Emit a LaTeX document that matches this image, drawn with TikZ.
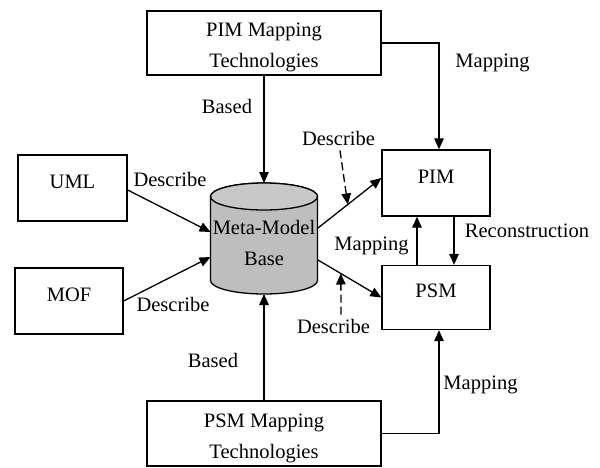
\documentclass[tikz,border=0pt]{standalone}
\usepackage{fontspec}
\setmainfont{Liberation Serif}
\usetikzlibrary{arrows.meta}
\definecolor{cylfill}{RGB}{190,190,190}
\definecolor{cyltop}{RGB}{200,200,200}
\begin{document}
\begin{tikzpicture}[x=1pt,y=-1pt,
  txt/.style={font=\fontsize{20.5}{31}\selectfont, inner sep=0pt, align=center, text=black},
  lbl/.style={txt, anchor=base},
  onebox/.style={txt, draw, line width=1.3pt, text height=10pt, text depth=10pt},
  twobox/.style={txt, draw, line width=1.3pt, text height=55pt, text depth=6pt},
  conn/.style={line width=1.3pt, -{Triangle[length=11pt,width=9.5pt]}},
  dconn/.style={conn, dash pattern=on 8pt off 4pt}]
\useasboundingbox (0,0) rectangle (600,467);

% boxes
\node[twobox, minimum width=234pt, minimum height=64pt] (pimt) at (264,43) {PIM Mapping\\Technologies};
\node[twobox, minimum width=234pt, minimum height=65pt] (psmt) at (264,433.5) {PSM Mapping\\Technologies};
\node[onebox, minimum width=109pt, minimum height=66pt] (uml) at (72.5,188) {UML};
\node[onebox, minimum width=108pt, minimum height=66pt] (mof) at (69,301) {MOF};
\node[onebox, minimum width=108pt, minimum height=66pt] (pim) at (436,183) {PIM};
\node[onebox, minimum width=108pt, minimum height=64pt] (psm) at (436,297.5) {PSM};

% cylinder
\filldraw[fill=cylfill, line width=1.3pt]
  (210.5,196.5) -- (210.5,280.5)
  arc[start angle=180, end angle=360, x radius=53.5pt, y radius=13.5pt]
  -- (317.5,196.5)
  arc[start angle=0, end angle=180, x radius=53.5pt, y radius=13.5pt] -- cycle;
\filldraw[fill=cyltop, line width=1.3pt] (264,196.5) ellipse[x radius=53.5pt, y radius=13.5pt];
\node[txt, text height=41pt, text depth=10pt] (mmb) at (264,249.5) {Meta-Model\\Base};

\coordinate (ctop) at (264,183);
\coordinate (cbot) at (264,294);
\coordinate (cul) at (210.5,232);
\coordinate (cml) at (210.5,257);
\coordinate (cur) at (318,228);
\coordinate (clr) at (318,260);

% labels
\node[lbl] (basedt) at (227,113) {Based};
\node[lbl] (basedb) at (213,367) {Based};
\node[lbl] (descul) at (170,186) {Describe};
\node[lbl] (descll) at (173,311) {Describe};
\node[lbl] (descum) at (338.5,145) {Describe};
\node[lbl] (desclm) at (333.5,333) {Describe};
\node[lbl] (mapmid) at (371.5,250) {Mapping};
\node[lbl] (maptr) at (492.5,67) {Mapping};
\node[lbl] (mapbr) at (480.5,389) {Mapping};
\node[lbl] (recon) at (527,237) {Reconstruction};

% connectors
\draw[conn] (pimt.south) -- (ctop);
\draw[conn] (psmt.north) -- (cbot);
\draw[conn] (pimt.east) -| ([xshift=3pt]pim.north);
\draw[conn] (psmt.east) -| ([xshift=3pt]psm.south);
\draw[conn] ([xshift=-19pt]psm.north) -- ([xshift=-19pt]pim.south);
\draw[conn] ([xshift=18pt]pim.south) -- ([xshift=18pt]psm.north);
\draw[conn] ([yshift=-2pt]uml.east) -- (cul);
\draw[conn] (mof.east) -- (cml);
\draw[conn] (cur) -- ([yshift=5pt]pim.west) coordinate (pimin);
\draw[conn] (clr) -- (psm.west);
\path (cur) -- (pimin) coordinate[pos=0.47] (d1);
\path (clr) -- (psm.west) coordinate[pos=0.36] (d2);
\draw[dconn] ([xshift=1.5pt,yshift=-5pt]descum.south) -- (d1);
\draw[dconn] ([xshift=7.5pt,yshift=4pt]desclm.north) -- (d2);
\end{tikzpicture}
\end{document}
